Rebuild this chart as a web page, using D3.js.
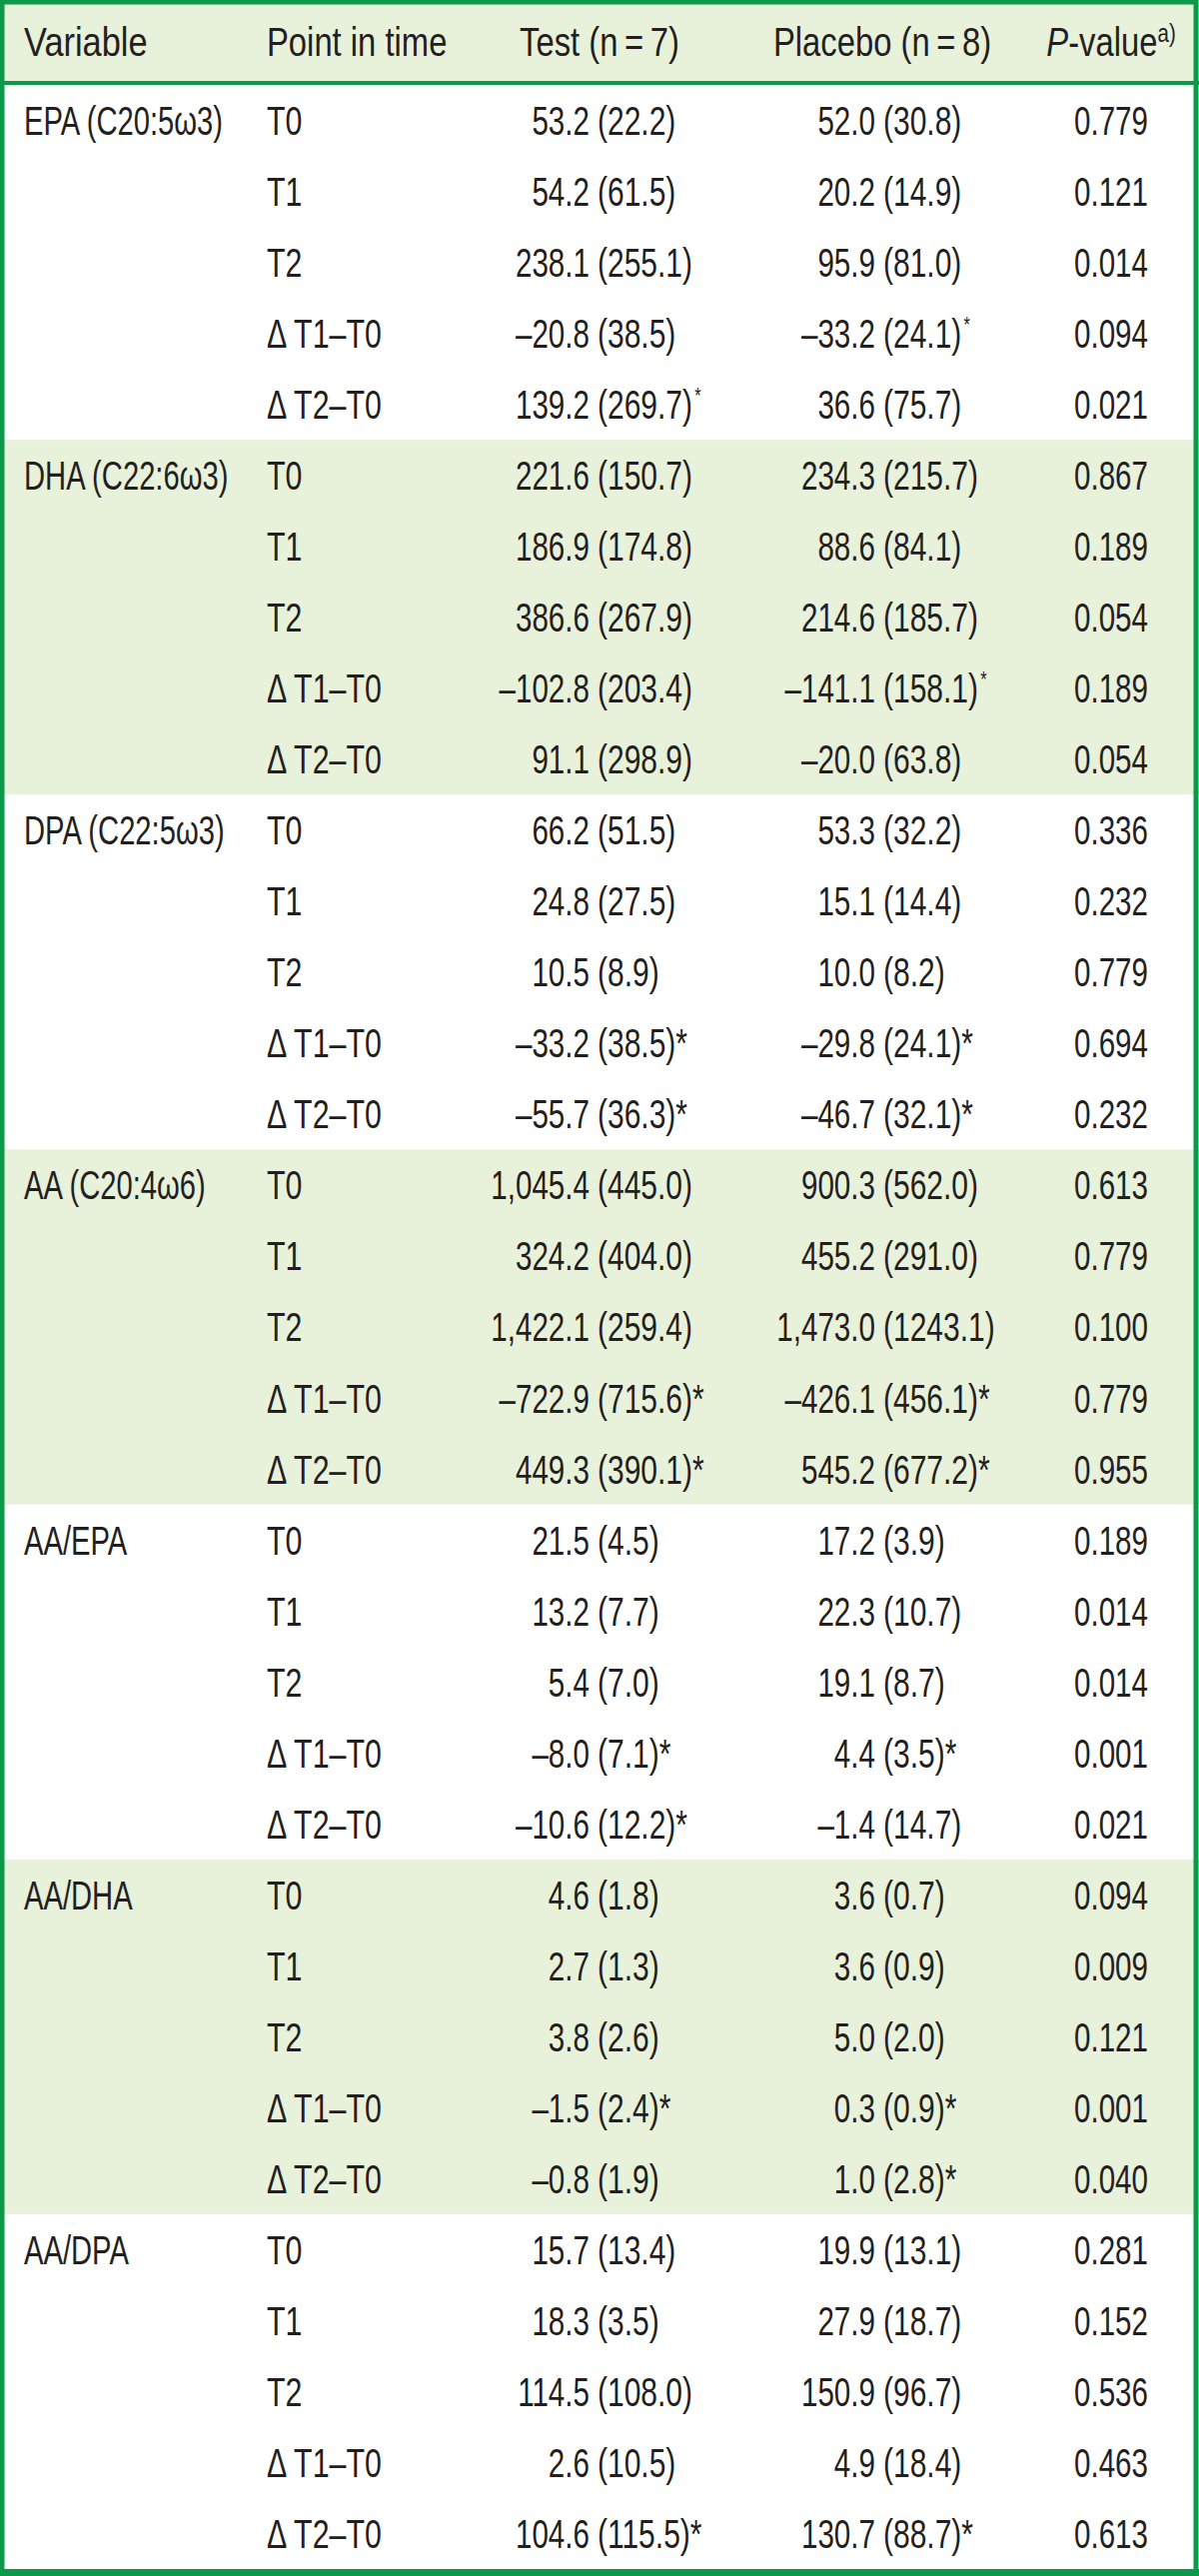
<html>
<head>
<meta charset="utf-8">
<title>Fatty acids table</title>
<style>
  body { margin: 0; background: #fff; }
  text { font-family: "Liberation Sans", Arial, sans-serif; fill: #231f20; }
</style>
<script src="https://d3js.org/d3.v7.min.js"></script>
</head>
<body>
<script>
// ---- data ----
var variables = ["EPA (C20:5ω3)", "DHA (C22:6ω3)", "DPA (C22:5ω3)", "AA (C20:4ω6)", "AA/EPA", "AA/DHA", "AA/DPA"];
var timePoints = ["T0", "T1", "T2", "Δ T1–T0", "Δ T2–T0"];
var headers = ["Variable", "Point in time", "Test (n\u2009=\u20097)", "Placebo (n\u2009=\u20098)", "P-value"];

var testMean = [
  [53.2, 54.2, 238.1, -20.8, 139.2],
  [221.6, 186.9, 386.6, -102.8, 91.1],
  [66.2, 24.8, 10.5, -33.2, -55.7],
  [1045.4, 324.2, 1422.1, -722.9, 449.3],
  [21.5, 13.2, 5.4, -8.0, -10.6],
  [4.6, 2.7, 3.8, -1.5, -0.8],
  [15.7, 18.3, 114.5, 2.6, 104.6]
];
var testSD = [
  [22.2, 61.5, 255.1, 38.5, 269.7],
  [150.7, 174.8, 267.9, 203.4, 298.9],
  [51.5, 27.5, 8.9, 38.5, 36.3],
  [445.0, 404.0, 259.4, 715.6, 390.1],
  [4.5, 7.7, 7.0, 7.1, 12.2],
  [1.8, 1.3, 2.6, 2.4, 1.9],
  [13.4, 3.5, 108.0, 10.5, 115.5]
];
// "^" = small raised asterisk, "*" = asterisk in line
var testMark = [
  ["", "", "", "", "^"],
  ["", "", "", "", ""],
  ["", "", "", "*", "*"],
  ["", "", "", "*", "*"],
  ["", "", "", "*", "*"],
  ["", "", "", "*", ""],
  ["", "", "", "", "*"]
];
var placeboMean = [
  [52.0, 20.2, 95.9, -33.2, 36.6],
  [234.3, 88.6, 214.6, -141.1, -20.0],
  [53.3, 15.1, 10.0, -29.8, -46.7],
  [900.3, 455.2, 1473.0, -426.1, 545.2],
  [17.2, 22.3, 19.1, 4.4, -1.4],
  [3.6, 3.6, 5.0, 0.3, 1.0],
  [19.9, 27.9, 150.9, 4.9, 130.7]
];
var placeboSD = [
  [30.8, 14.9, 81.0, 24.1, 75.7],
  [215.7, 84.1, 185.7, 158.1, 63.8],
  [32.2, 14.4, 8.2, 24.1, 32.1],
  [562.0, 291.0, 1243.1, 456.1, 677.2],
  [3.9, 10.7, 8.7, 3.5, 14.7],
  [0.7, 0.9, 2.0, 0.9, 2.8],
  [13.1, 18.7, 96.7, 18.4, 88.7]
];
var placeboMark = [
  ["", "", "", "^", ""],
  ["", "", "", "^", ""],
  ["", "", "", "*", "*"],
  ["", "", "", "*", "*"],
  ["", "", "", "*", ""],
  ["", "", "", "*", "*"],
  ["", "", "", "", "*"]
];
var pValues = [
  ["0.779", "0.121", "0.014", "0.094", "0.021"],
  ["0.867", "0.189", "0.054", "0.189", "0.054"],
  ["0.336", "0.232", "0.779", "0.694", "0.232"],
  ["0.613", "0.779", "0.100", "0.779", "0.955"],
  ["0.189", "0.014", "0.014", "0.001", "0.021"],
  ["0.094", "0.009", "0.121", "0.001", "0.040"],
  ["0.281", "0.152", "0.536", "0.463", "0.613"]
];

// ---- layout ----
var W = 1200, H = 2578,
    green = "#0b9a4a", band = "#e8f1da",
    headH = 85, bottom = 2571,
    fs = 40;

var svg = d3.select("body").append("svg").attr("width", W).attr("height", H);

var rows = [];
variables.forEach(function(v, g) {
  timePoints.forEach(function(t, k) {
    rows.push({g: g, k: k, variable: k === 0 ? v : "", time: t,
      tm: testMean[g][k], ts: testSD[g][k], tmk: testMark[g][k],
      pm: placeboMean[g][k], ps: placeboSD[g][k], pmk: placeboMark[g][k],
      p: pValues[g][k]});
  });
});

var y = d3.scaleBand().domain(d3.range(rows.length)).range([headH, bottom]);
var groupY = d3.scaleBand().domain(d3.range(variables.length)).range([headH, bottom]);

var fmtMean = d3.formatLocale({decimal: ".", thousands: ",", grouping: [3], currency: ["", ""], minus: "–"}).format(",.1f");
var fmtSD = d3.format(".1f");

// backgrounds
svg.append("rect").attr("x", 0).attr("y", 0).attr("width", W).attr("height", headH).attr("fill", band);
svg.selectAll("rect.band")
  .data(d3.range(variables.length).filter(function(g) { return g % 2 === 1; }))
  .enter().append("rect")
  .attr("class", "band")
  .attr("x", 0).attr("width", W)
  .attr("y", function(g) { return groupY(g); })
  .attr("height", groupY.bandwidth())
  .attr("fill", band);

// text helper: horizontally condensed text
function put(sel, x, yy, str, anchor, sx) {
  return sel.append("text")
    .attr("transform", "translate(" + x + "," + yy + ") scale(" + sx + ",1)")
    .attr("text-anchor", anchor)
    .style("font-size", fs + "px")
    .text(str);
}

// header
var hb = 56;
var head = svg.append("g").attr("class", "head");
put(head, 24, hb, headers[0], "start", 0.86);
put(head, 267, hb, headers[1], "start", 0.82);
put(head, 600, hb, headers[2], "middle", 0.82);
put(head, 883, hb, headers[3], "middle", 0.82);
var ph = put(head, 1112, hb, "", "middle", 0.82);
ph.append("tspan").style("font-style", "italic").text(headers[4].charAt(0));
ph.append("tspan").text(headers[4].slice(1));
ph.append("tspan").attr("dy", -14).style("font-size", "25px").text("a)");

// body
var cols = {variable: 24, time: 267, testMean: 590, testSD: 598, plMean: 876, plSD: 884, p: 1112};
var body = svg.append("g").attr("class", "body");
var off = 50;

rows.forEach(function(r, i) {
  var yy = y(i) + off;
  if (r.variable) put(body, cols.variable, yy, r.variable, "start", 0.73);
  put(body, cols.time, yy, r.time, "start", 0.76);
  put(body, cols.testMean, yy, fmtMean(r.tm), "end", 0.74);
  var ts = put(body, cols.testSD, yy, "(" + fmtSD(r.ts) + ")", "start", 0.75);
  mark(ts, r.tmk);
  put(body, cols.plMean, yy, fmtMean(r.pm), "end", 0.74);
  var ps = put(body, cols.plSD, yy, "(" + fmtSD(r.ps) + ")", "start", 0.75);
  mark(ps, r.pmk);
  put(body, cols.p, yy, r.p, "middle", 0.74);
});

function mark(t, m) {
  if (m === "*") t.append("tspan").text("*");
  if (m === "^") t.append("tspan").attr("dx", 3).attr("dy", -16).style("font-size", "22px").text("*");
}

// rules and frame
svg.append("rect").attr("x", 0).attr("y", 81).attr("width", W).attr("height", 4).attr("fill", green);
svg.append("rect").attr("x", 2).attr("y", 2).attr("width", W - 5).attr("height", H - 5)
  .attr("fill", "none").attr("stroke", green).attr("stroke-width", 5);
svg.append("rect").attr("x", 0).attr("y", bottom).attr("width", W).attr("height", H - bottom).attr("fill", green);
</script>
</body>
</html>
